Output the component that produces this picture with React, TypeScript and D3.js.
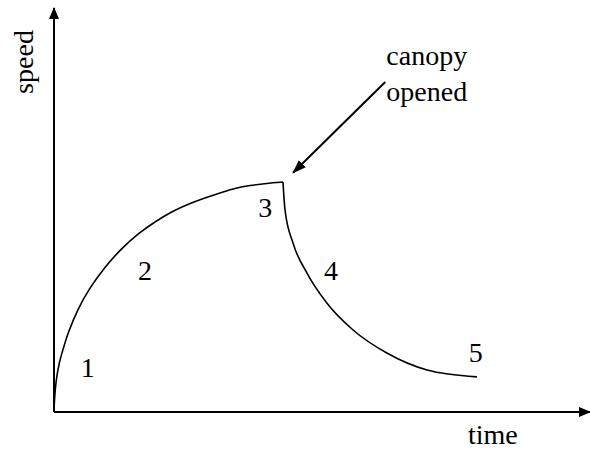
import React from "react";
import * as d3 from "d3";

const W = 590;
const H = 450;

// Phase 1: free fall (time, speed) in arbitrary units
const fallTime = [0, 0.007, 0.037, 0.1, 0.155, 0.267, 0.453, 0.64, 0.951, 1.263, 1.573, 1.884, 2.196, 2.506, 2.817, 3.041, 3.34, 3.657, 3.974, 4.272];
const fallSpeed = [0, 0.3, 0.79, 1.24, 1.49, 1.99, 2.57, 3.02, 3.6, 4.05, 4.42, 4.71, 4.96, 5.15, 5.3, 5.4, 5.53, 5.61, 5.66, 5.69];

// Phase 2: after canopy opened
const canopyTime = [4.272, 4.31, 4.46, 4.72, 5.09, 5.58, 6.21, 6.96, 7.89];
const canopySpeed = [5.69, 5.0, 4.18, 3.44, 2.7, 2.03, 1.46, 1.04, 0.87];

// Stage labels
const stageLabels = ["1", "2", "3", "4", "5"];
const stageTime = [0.63, 1.7, 3.94, 5.17, 7.87];
const stageSpeed = [0.87, 3.27, 4.83, 3.27, 1.24];

// Annotation
const annotationLines = ["canopy", "opened"];
const annotationFrom = [6.18, 8.17];
const annotationTo = [4.46, 5.92];

const xLabel = "time";
const yLabel = "speed";

const FONT = "Liberation Serif, Times New Roman, DejaVu Serif, serif";

export default function App() {
  const x = d3.scaleLinear().domain([0, 10]).range([54, 590]);
  const y = d3.scaleLinear().domain([0, 10]).range([412, 8]);

  const fallLine = d3
    .line<[number, number]>()
    .x((d) => x(d[0]))
    .y((d) => y(d[1]))
    .curve(d3.curveBasis);

  const canopyLine = d3
    .line<[number, number]>()
    .x((d) => x(d[0]))
    .y((d) => y(d[1]))
    .curve(d3.curveMonotoneX);

  const fall = fallTime.map((t, i) => [t, fallSpeed[i]] as [number, number]);
  const canopy = canopyTime.map((t, i) => [t, canopySpeed[i]] as [number, number]);

  const ax0 = x(0);
  const ay0 = y(0);
  const axEnd = x(10);
  const ayEnd = y(10);

  const fx = x(annotationFrom[0]);
  const fy = y(annotationFrom[1]);
  const tx = x(annotationTo[0]);
  const ty = y(annotationTo[1]);

  const textStyle = { fontFamily: FONT, fontSize: 28, fill: "#000" };

  return (
    <svg
      width={W}
      height={H}
      style={{ position: "absolute", left: 0, top: 0, background: "#fff" }}
    >
      <defs>
        <marker
          id="ah"
          viewBox="0 0 12 10"
          refX="11"
          refY="5"
          markerWidth="12"
          markerHeight="10"
          markerUnits="userSpaceOnUse"
          orient="auto"
        >
          <path d="M0,0 L12,5 L0,10 Z" fill="#000" />
        </marker>
        <marker
          id="ah2"
          viewBox="0 0 14 10"
          refX="13"
          refY="5"
          markerWidth="14"
          markerHeight="10"
          markerUnits="userSpaceOnUse"
          orient="auto"
        >
          <path d="M0,0 L14,5 L0,10 Z" fill="#000" />
        </marker>
      </defs>

      {/* axes */}
      <line x1={ax0} y1={ay0} x2={ax0} y2={ayEnd} stroke="#000" strokeWidth={2} markerEnd="url(#ah)" />
      <line x1={ax0} y1={ay0} x2={axEnd} y2={ay0} stroke="#000" strokeWidth={2} markerEnd="url(#ah)" />

      {/* curves */}
      <path d={fallLine(fall) || ""} fill="none" stroke="#000" strokeWidth={1.6} />
      <path d={canopyLine(canopy) || ""} fill="none" stroke="#000" strokeWidth={1.6} />

      {/* annotation arrow */}
      <line x1={fx} y1={fy} x2={tx} y2={ty} stroke="#000" strokeWidth={2} markerEnd="url(#ah2)" />

      {/* stage labels */}
      {stageLabels.map((s, i) => (
        <text
          key={s}
          x={x(stageTime[i])}
          y={y(stageSpeed[i])}
          textAnchor="middle"
          style={textStyle}
        >
          {s}
        </text>
      ))}

      {/* annotation text */}
      {annotationLines.map((t, i) => (
        <text key={t} x={x(6.2)} y={y(8.6) + i * 36} style={textStyle}>
          {t}
        </text>
      ))}

      {/* axis labels */}
      <text x={468} y={444} style={textStyle}>
        {xLabel}
      </text>
      <text transform={`translate(33,62) rotate(-90)`} textAnchor="middle" style={textStyle}>
        {yLabel}
      </text>
    </svg>
  );
}
